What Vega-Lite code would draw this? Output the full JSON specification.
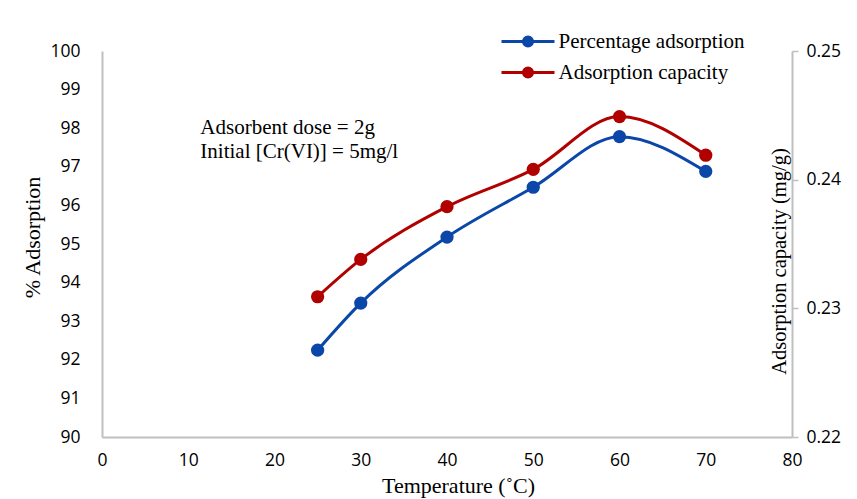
{
  "$schema": "https://vega.github.io/schema/vega-lite/v6.json",
  "width": 690,
  "height": 386,
  "autosize": "none",
  "padding": {"left": 102, "top": 51, "right": 65, "bottom": 62},
  "background": "white",
  "config": {
    "view": {"stroke": null},
    "axis": {"grid": false, "domainColor": "#BFBFBF", "domainWidth": 2, "labelFont": "Open Sans", "labelFontSize": 17.5, "labelColor": "#000000", "labelFlush": false, "labelOverlap": false, "titleFont": "Liberation Serif", "titleFontSize": 22, "titleFontWeight": "normal", "titleColor": "#000000"}
  },
  "datasets": {
    "main": [
      {"t": 25, "series": "Percentage adsorption", "pct": 92.25},
      {"t": 30, "series": "Percentage adsorption", "pct": 93.47},
      {"t": 40, "series": "Percentage adsorption", "pct": 95.18},
      {"t": 50, "series": "Percentage adsorption", "pct": 96.47},
      {"t": 60, "series": "Percentage adsorption", "pct": 97.78},
      {"t": 70, "series": "Percentage adsorption", "pct": 96.88},
      {"t": 25, "series": "Adsorption capacity", "cap": 0.2309},
      {"t": 30, "series": "Adsorption capacity", "cap": 0.2338},
      {"t": 40, "series": "Adsorption capacity", "cap": 0.2379},
      {"t": 50, "series": "Adsorption capacity", "cap": 0.2408},
      {"t": 60, "series": "Adsorption capacity", "cap": 0.2449},
      {"t": 70, "series": "Adsorption capacity", "cap": 0.2419}
    ],
    "notes": [
      {"ax": 11.4, "ay": 98.0, "label": "Adsorbent dose = 2g"},
      {"ax": 11.4, "ay": 97.38, "label": "Initial [Cr(VI)] = 5mg/l"}
    ]
  },
  "layer": [
    {
      "data": {"name": "main"},
      "transform": [{"filter": "datum.series === 'Percentage adsorption'"}],
      "mark": {"type": "line", "interpolate": "monotone", "strokeWidth": 3, "point": {"filled": true, "size": 175}},
      "encoding": {
        "x": {"field": "t", "type": "quantitative", "scale": {"domain": [0, 80]}, "axis": {"values": [0, 10, 20, 30, 40, 50, 60, 70, 80], "ticks": false, "tickSize": 0, "labelPadding": 14, "title": "Temperature (˚C)", "titleX": 356, "titleAlign": "center", "titleAnchor": null, "titleY": 48, "titleBaseline": "middle"}},
        "y": {"field": "pct", "type": "quantitative", "scale": {"domain": [90, 100]}, "axis": {"orient": "left", "values": [90, 91, 92, 93, 94, 95, 96, 97, 98, 99, 100], "ticks": false, "tickSize": 0, "labelPadding": 22, "title": "% Adsorption", "titleAngle": -90, "titleX": -58, "titleY": 186, "titleBaseline": "bottom", "titleAlign": "center"}},
        "color": {"field": "series", "type": "nominal", "scale": {"domain": ["Percentage adsorption", "Adsorption capacity"], "range": ["#0B47A8", "#B00000"]},
          "legend": {"orient": "none", "legendX": 414.5, "legendY": -21, "title": null, "symbolType": "M-2.65,0H2.65M-0.45,0A0.45,0.45 0 1,1 0.45,0A0.45,0.45 0 1,1 -0.45,0", "symbolSize": 400, "symbolStrokeWidth": 3, "labelFont": "Liberation Serif", "labelFontSize": 21, "labelLimit": 0, "labelColor": "#000000", "labelOffset": 19, "rowPadding": 9, "padding": 0, "symbolOffset": 0,
            "encode": {"symbols": {"update": {"fill": {"scale": "color", "field": "value"}, "stroke": {"scale": "color", "field": "value"}, "opacity": {"value": 1}}}}}}
      }
    },
    {
      "data": {"name": "main"},
      "transform": [{"filter": "datum.series === 'Adsorption capacity'"}],
      "mark": {"type": "line", "interpolate": "monotone", "strokeWidth": 3, "point": {"filled": true, "size": 175}},
      "encoding": {
        "x": {"field": "t", "type": "quantitative"},
        "y": {"field": "cap", "type": "quantitative", "scale": {"domain": [0.22, 0.25]}, "axis": {"orient": "right", "values": [0.22, 0.23, 0.24, 0.25], "format": ".2f", "tickSize": 6, "tickColor": "#BFBFBF", "tickWidth": 1.5, "labelPadding": 8, "title": "Adsorption capacity (mg/g)", "titleFontSize": 20.5, "titleAngle": -90, "titleX": -3, "titleY": 210, "titleBaseline": "bottom", "titleAlign": "center"}},
        "color": {"field": "series", "type": "nominal"}
      }
    },
    {
      "data": {"name": "notes"},
      "mark": {"type": "text", "align": "left", "baseline": "middle", "font": "Liberation Serif", "fontSize": 21, "color": "#000000"},
      "encoding": {
        "x": {"field": "ax", "type": "quantitative"},
        "y": {"field": "ay", "type": "quantitative", "scale": {"domain": [90, 100]}, "axis": null},
        "text": {"field": "label"}
      }
    }
  ],
  "resolve": {"scale": {"y": "independent"}}
}
